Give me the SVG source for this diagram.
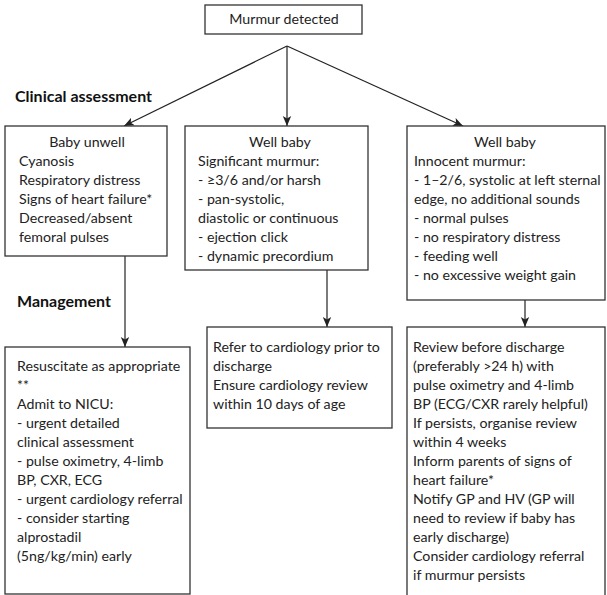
<svg xmlns="http://www.w3.org/2000/svg" width="607" height="595" viewBox="0 0 607 595">
<defs>
<style>
.box{fill:#fff;stroke:#333;stroke-width:1.3}
.t{font-family:Lato,"Open Sans",sans-serif;font-size:14.2px;fill:#222}
.c{text-anchor:middle}
.h{font-family:Lato,"Open Sans",sans-serif;font-size:16px;font-weight:bold;fill:#111}
.con{stroke:#222;stroke-width:1.2;fill:none;marker-end:url(#ah)}
</style>
<marker id="ah" markerUnits="userSpaceOnUse" markerWidth="10" markerHeight="10" viewBox="0 0 10 10" refX="10" refY="5" orient="auto">
<path d="M0,0.8 L10,5 L0,9.2 L2.5,5 z" fill="#222"/>
</marker>
</defs>
<rect width="607" height="595" fill="#fff"/>
<g id="connectors">
<line class="con" x1="287" y1="46" x2="124" y2="126"/>
<line class="con" x1="287" y1="46" x2="287" y2="126"/>
<line class="con" x1="287" y1="46" x2="463" y2="126"/>
<line class="con" x1="125" y1="256" x2="125" y2="347"/>
<line class="con" x1="327" y1="270" x2="327" y2="327"/>
<line class="con" x1="525" y1="300" x2="525" y2="327"/>
</g>
<g id="murmur-detected">
<rect class="box" x="205" y="5" width="157" height="29"/>
<text class="t c" x="284" y="24">Murmur detected</text>
</g>
<g id="label-clinical">
<text class="h" x="15" y="102">Clinical assessment</text>
</g>
<g id="label-management">
<text class="h" x="17" y="307">Management</text>
</g>
<g id="baby-unwell">
<rect class="box" x="5" y="126" width="162" height="130"/>
<text class="t c" x="87" y="147">Baby unwell</text>
<text class="t" x="19" y="166">Cyanosis</text>
<text class="t" x="19" y="185">Respiratory distress</text>
<text class="t" x="19" y="204">Signs of heart failure*</text>
<text class="t" x="19" y="223">Decreased/absent</text>
<text class="t" x="19" y="242">femoral pulses</text>
</g>
<g id="well-baby-significant">
<rect class="box" x="185" y="126" width="183" height="144"/>
<text class="t c" x="280" y="147">Well baby</text>
<text class="t" x="198" y="166">Significant murmur:</text>
<text class="t" x="198" y="185">- ≥3/6 and/or harsh</text>
<text class="t" x="198" y="204">- pan-systolic,</text>
<text class="t" x="198" y="223">diastolic or continuous</text>
<text class="t" x="198" y="242">- ejection click</text>
<text class="t" x="198" y="261">- dynamic precordium</text>
</g>
<g id="well-baby-innocent">
<rect class="box" x="407" y="126" width="198" height="174"/>
<text class="t c" x="505" y="147">Well baby</text>
<text class="t" x="414" y="166">Innocent murmur:</text>
<text class="t" x="414" y="185">- 1–2/6, systolic at left sternal</text>
<text class="t" x="414" y="204">edge, no additional sounds</text>
<text class="t" x="414" y="223">- normal pulses</text>
<text class="t" x="414" y="242">- no respiratory distress</text>
<text class="t" x="414" y="261">- feeding well</text>
<text class="t" x="414" y="280">- no excessive weight gain</text>
</g>
<g id="resuscitate">
<rect class="box" x="5" y="347" width="185" height="247"/>
<text class="t" x="17" y="371">Resuscitate as appropriate</text>
<text class="t" x="17" y="390">**</text>
<text class="t" x="17" y="409">Admit to NICU:</text>
<text class="t" x="17" y="428">- urgent detailed</text>
<text class="t" x="17" y="447">clinical assessment</text>
<text class="t" x="17" y="466">- pulse oximetry, 4-limb</text>
<text class="t" x="17" y="485">BP, CXR, ECG</text>
<text class="t" x="17" y="504">- urgent cardiology referral</text>
<text class="t" x="17" y="523">- consider starting</text>
<text class="t" x="17" y="542">alprostadil</text>
<text class="t" x="17" y="561">(5ng/kg/min) early</text>
</g>
<g id="refer-cardiology">
<rect class="box" x="207" y="327" width="185" height="101"/>
<text class="t" x="213" y="352">Refer to cardiology prior to</text>
<text class="t" x="213" y="371">discharge</text>
<text class="t" x="213" y="390">Ensure cardiology review</text>
<text class="t" x="213" y="409">within 10 days of age</text>
</g>
<g id="review-before-discharge">
<rect class="box" x="407" y="327" width="198" height="272"/>
<text class="t" x="413" y="352">Review before discharge</text>
<text class="t" x="413" y="371">(preferably &gt;24 h) with</text>
<text class="t" x="413" y="390">pulse oximetry and 4-limb</text>
<text class="t" x="413" y="409">BP (ECG/CXR rarely helpful)</text>
<text class="t" x="413" y="428">If persists, organise review</text>
<text class="t" x="413" y="447">within 4 weeks</text>
<text class="t" x="413" y="466">Inform parents of signs of</text>
<text class="t" x="413" y="485">heart failure*</text>
<text class="t" x="413" y="504">Notify GP and HV (GP will</text>
<text class="t" x="413" y="523">need to review if baby has</text>
<text class="t" x="413" y="542">early discharge)</text>
<text class="t" x="413" y="561">Consider cardiology referral</text>
<text class="t" x="413" y="580">if murmur persists</text>
</g>
</svg>
